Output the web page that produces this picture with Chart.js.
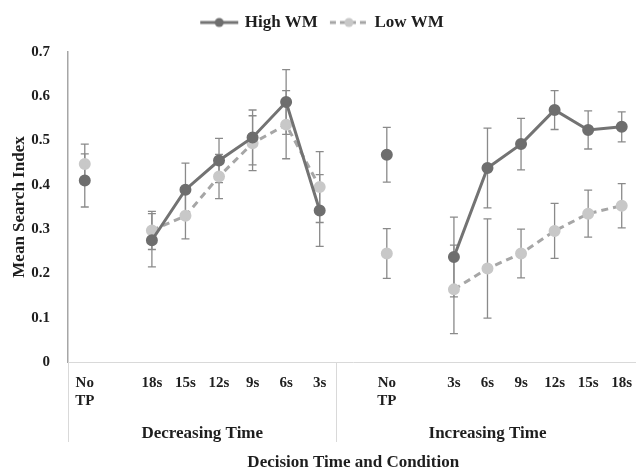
<!DOCTYPE html>
<html>
<head>
<meta charset="utf-8">
<script src="https://cdn.jsdelivr.net/npm/chart.js@4.4.1/dist/chart.umd.min.js"></script>
<style>
html,body{margin:0;padding:0;overflow:hidden;background:#fff;}
#wrap{width:646px;height:471px;position:relative;}
</style>
</head>
<body>
<div id="wrap"><canvas id="c" width="646" height="471"></canvas></div>
<script>
// ---- data ----
const categories = [["No","TP"], "", "18s", "15s", "12s", "9s", "6s", "3s", "", ["No","TP"], "", "3s", "6s", "9s", "12s", "15s", "18s"];
const groupLabels = ["Decreasing Time", "Increasing Time"];
const groupSizes = [8, 9];
const seriesNames = ["High WM", "Low WM"];
const highWM = [0.41, null, 0.275, 0.389, 0.455, 0.507, 0.587, 0.342, null, 0.468, null, 0.237, 0.438, 0.492, 0.569, 0.524, 0.531];
const highErr = [0.06, null, 0.06, 0.06, 0.05, 0.062, 0.073, 0.081, null, 0.062, null, 0.09, 0.09, 0.058, 0.044, 0.043, 0.034];
const lowWM = [0.447, null, 0.297, 0.33, 0.419, 0.494, 0.536, 0.395, null, 0.245, null, 0.164, 0.211, 0.245, 0.296, 0.335, 0.353];
const lowErr = [0.045, null, 0.043, 0.052, 0.05, 0.062, 0.077, 0.08, null, 0.056, null, 0.1, 0.112, 0.055, 0.062, 0.053, 0.05];
const yTicks = [0, 0.1, 0.2, 0.3, 0.4, 0.5, 0.6, 0.7];
const xTitle = "Decision Time and Condition";
const yTitle = "Mean Search Index";

const FONT = "'Liberation Serif', 'Times New Roman', serif";
const TXT = "#1e1e1e";
const HIGH_LINE = "#737373", HIGH_PT = "#6e6e6e";
const LOW_LINE = "#a6a6a6", LOW_PT = "#c8c8c8";
const ERR = "#8a8a8a";

function legendIcon(lineColor, ptColor, dashed) {
  const cv = document.createElement('canvas');
  cv.width = 40; cv.height = 12;
  const g = cv.getContext('2d');
  g.strokeStyle = lineColor; g.lineWidth = 3;
  if (dashed) g.setLineDash([6, 4]);
  g.beginPath(); g.moveTo(1, 6); g.lineTo(39, 6); g.stroke();
  g.setLineDash([]);
  g.fillStyle = ptColor;
  g.beginPath(); g.arc(20, 6, 4.5, 0, Math.PI * 2); g.fill();
  return cv;
}
const icons = [legendIcon(HIGH_LINE, HIGH_PT, false), legendIcon(LOW_LINE, LOW_PT, true)];

// extra gap below the legend
const legendGap = {
  id: 'legendGap',
  beforeInit(chart) {
    const origFit = chart.legend.fit;
    chart.legend.fit = function () { origFit.call(this); this.height += 11; };
  }
};

const errorBars = {
  id: 'errorBars',
  beforeDatasetsDraw(chart) {
    const ctx = chart.ctx, x = chart.scales.x, y = chart.scales.y;
    const errs = [highErr, lowErr];
    chart.data.datasets.forEach((ds, di) => {
      ds.data.forEach((v, i) => {
        if (v === null || errs[di][i] === null) return;
        const px = x.getPixelForValue(i);
        const top = y.getPixelForValue(v + errs[di][i]);
        const bot = y.getPixelForValue(v - errs[di][i]);
        ctx.save();
        ctx.strokeStyle = ERR; ctx.lineWidth = 1.3;
        ctx.beginPath();
        ctx.moveTo(px, top); ctx.lineTo(px, bot);
        ctx.moveTo(px - 4, top); ctx.lineTo(px + 4, top);
        ctx.moveTo(px - 4, bot); ctx.lineTo(px + 4, bot);
        ctx.stroke();
        ctx.restore();
      });
    });
  }
};

const groupAxis = {
  id: 'groupAxis',
  afterDraw(chart) {
    const ctx = chart.ctx, x = chart.scales.x, area = chart.chartArea;
    const half = (x.getPixelForValue(1) - x.getPixelForValue(0)) / 2;
    ctx.save();
    ctx.strokeStyle = "#d9d9d9"; ctx.lineWidth = 1;
    let start = 0;
    const bounds = [];
    groupSizes.forEach(n => { bounds.push([start, start + n - 1]); start += n; });
    const edges = [0];
    bounds.forEach(b => edges.push(b[1] + 1));
    edges.forEach(e => {
      const px = Math.round(x.getPixelForValue(e) - half) + 0.5;
      ctx.beginPath(); ctx.moveTo(px, area.bottom); ctx.lineTo(px, area.bottom + 80); ctx.stroke();
    });
    ctx.fillStyle = TXT;
    ctx.font = "bold 17px " + FONT;
    ctx.textAlign = 'center'; ctx.textBaseline = 'middle';
    bounds.forEach((b, gi) => {
      const cx = (x.getPixelForValue(b[0]) + x.getPixelForValue(b[1])) / 2;
      ctx.fillText(groupLabels[gi], cx, area.bottom + 72);
    });
    ctx.fillText(xTitle, (area.left + area.right) / 2, area.bottom + 101);
    ctx.restore();
  }
};

new Chart(document.getElementById('c'), {
  type: 'line',
  data: {
    labels: categories,
    datasets: [
      { label: seriesNames[0], data: highWM, borderColor: HIGH_LINE, backgroundColor: HIGH_PT,
        pointBackgroundColor: HIGH_PT, pointBorderColor: HIGH_PT, borderWidth: 3, pointRadius: 4.5, spanGaps: false },
      { label: seriesNames[1], data: lowWM, borderColor: LOW_LINE, backgroundColor: LOW_PT, borderDash: [7, 5],
        pointBackgroundColor: LOW_PT, pointBorderColor: LOW_PT, borderWidth: 3, pointRadius: 4.5, spanGaps: false }
    ]
  },
  options: {
    responsive: false,
    animation: false,
    layout: { padding: { top: 0, left: 0, right: 0, bottom: 0 } },
    plugins: {
      tooltip: { enabled: false },
      legend: {
        position: 'top',
        labels: {
          usePointStyle: true,
          pointStyleWidth: 34,
          padding: 14,
          color: TXT,
          font: { family: FONT, size: 17, weight: 'bold' },
          generateLabels(chart) {
            return chart.data.datasets.map((ds, i) => ({
              text: ds.label, pointStyle: icons[i], fillStyle: 'transparent', strokeStyle: 'transparent',
              lineWidth: 0, datasetIndex: i, hidden: false, fontColor: TXT
            }));
          }
        }
      }
    },
    scales: {
      x: {
        offset: true,
        grid: { display: false, drawTicks: false },
        border: { display: true, color: "#d9d9d9", width: 1 },
        ticks: { color: TXT, font: { family: FONT, size: 15, weight: 'bold', lineHeight: 1.2 }, padding: 12, autoSkip: false, maxRotation: 0 },
        afterFit(s) { s.height = 109; }
      },
      y: {
        min: 0, max: 0.7,
        afterBuildTicks(s) { s.ticks = yTicks.map(v => ({ value: v })); },
        grid: { display: false, drawTicks: false },
        border: { display: true, color: "#a6a6a6", width: 1.5 },
        ticks: { color: TXT, font: { family: FONT, size: 15, weight: 'bold' }, padding: 18,
          callback: v => (v === 0 ? "0" : v.toFixed(1)) },
        title: { display: true, text: yTitle, color: TXT, font: { family: FONT, size: 17, weight: 'bold' }, padding: { top: 9, bottom: 4 } },
        afterFit(s) { s.width = 68; }
      }
    }
  },
  plugins: [legendGap, errorBars, groupAxis]
});
</script>
</body>
</html>
